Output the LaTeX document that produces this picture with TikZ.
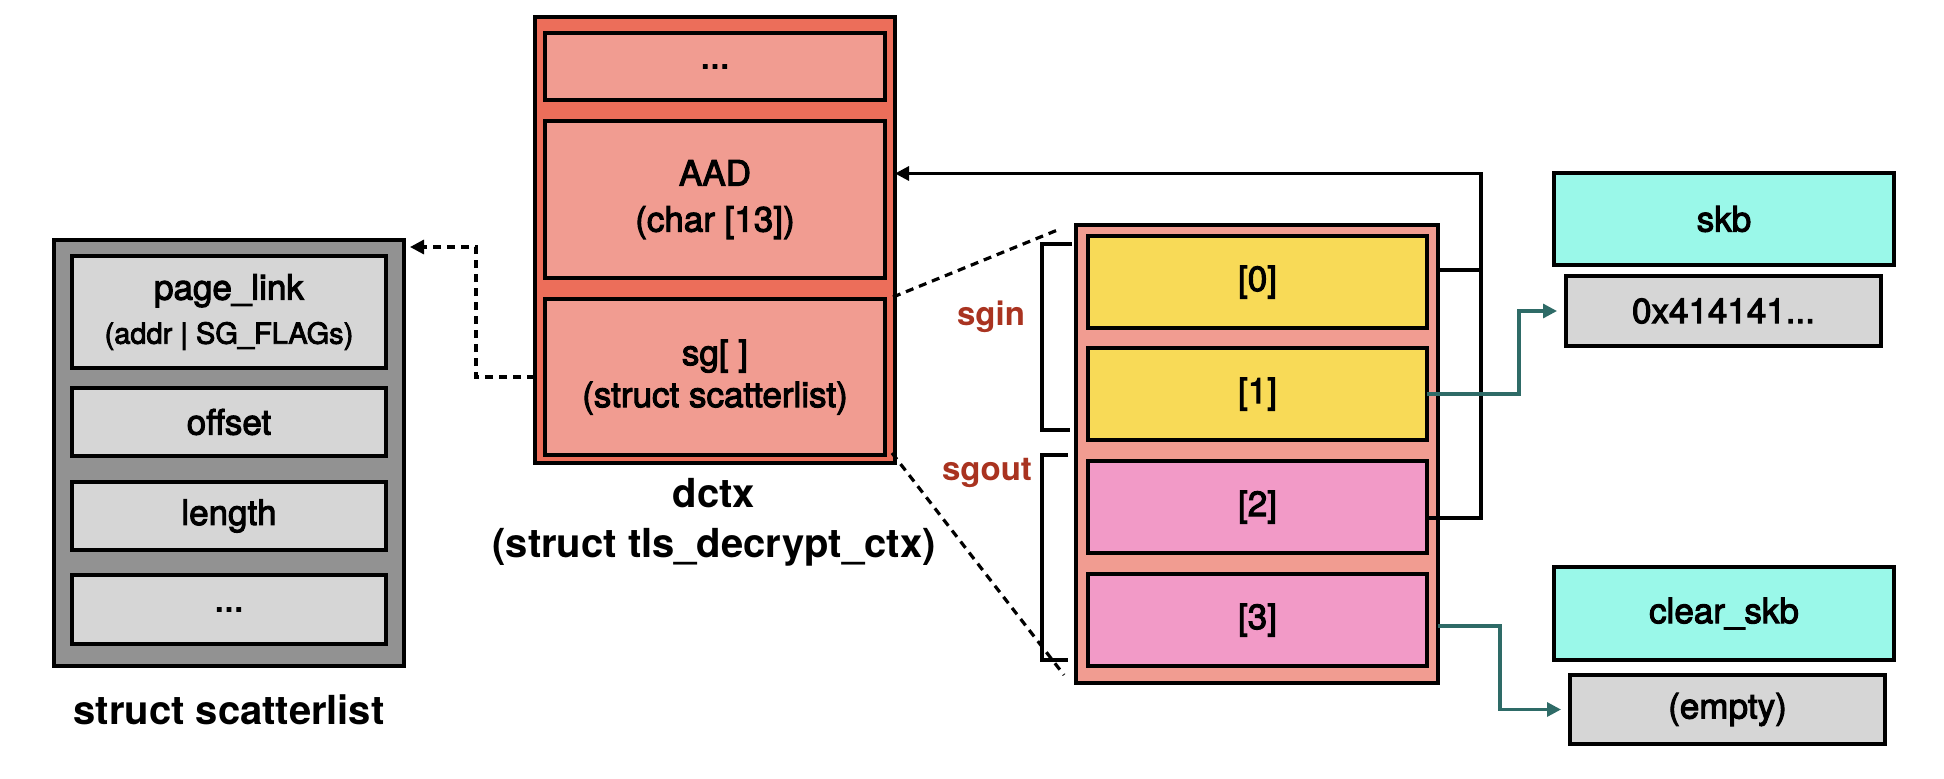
\documentclass[tikz,border=0pt]{standalone}
\usepackage{fontspec}
\setmainfont{TeX Gyre Heros}
\newfontfamily\medf[FakeBold=3]{TeX Gyre Heros}
\usetikzlibrary{fit,arrows.meta,calc}
\definecolor{slout}{HTML}{929292}
\definecolor{grayin}{HTML}{D6D6D6}
\definecolor{dcout}{HTML}{EC6E5A}
\definecolor{dcin}{HTML}{F19C91}
\definecolor{yel}{HTML}{F8DA57}
\definecolor{pnk}{HTML}{F29AC7}
\definecolor{aqua}{HTML}{9AF8E9}
\definecolor{tealc}{HTML}{2E6B67}
\definecolor{redl}{HTML}{A93320}
\newcommand\bodyf{\medf\fontsize{17.5}{21}\selectfont}
\newcommand\subf{\fontsize{14.5}{18}\selectfont}
\newcommand\lblf{\fontsize{20}{25}\selectfont\bfseries}
\tikzset{
  bx/.style={draw=black, line width=2pt, inner sep=0pt, outer sep=0pt},
  txt/.style={align=center, font=\bodyf, inner sep=0pt},
  lbl/.style={align=center, font=\lblf, inner sep=0pt},
  redlbl/.style={font=\fontsize{16.5}{20}\selectfont\bfseries, text=redl, inner sep=0pt},
  blk/.style={draw=black, line width=1.6pt},
  tl/.style={draw=tealc, line width=1.6pt},
  dsh/.style={draw=black, line width=1.6pt, dash pattern=on 4pt off 3pt},
  brk/.style={draw=black, line width=1.6pt},
  tip/.style={-{Triangle[length=7pt,width=7pt]}}
}
\begin{document}
\begin{tikzpicture}[x=0.5pt,y=-0.5pt]
\useasboundingbox (0,0) rectangle (1944,778);

% struct scatterlist
\node[bx, fill=slout, fit={(54,240) (404,666)}] (sl) {};
\node[bx, fill=grayin, fit={(72,256) (386,368)}] (pl) {};
\node[bx, fill=grayin, fit={(72,388) (386,456)}] (off) {};
\node[bx, fill=grayin, fit={(72,482) (386,550)}] (len) {};
\node[bx, fill=grayin, fit={(72,575) (386,644)}] (sld) {};
\node[txt] (plT) at (pl.center) {page\_link\\[1pt]{\subf (addr | SG\_FLAGs)}};
\node[txt] (offT) at (off.center) {offset};
\node[txt] (lenT) at (len.center) {length};
\node[txt] (sldT) at (sld.center) {...};
\node[lbl] (sllbl) at (229,710) {struct scatterlist};

% dctx
\node[bx, fill=dcout, fit={(535,17) (895,463)}] (dctx) {};
\node[bx, fill=dcin, fit={(545,33) (885,100)}] (ddot) {};
\node[bx, fill=dcin, fit={(545,121) (885,278)}] (aad) {};
\node[bx, fill=dcin, fit={(545,299) (885,455)}] (sg) {};
\node[txt] (ddotT) at (ddot.center) {...};
\node[txt] (aadT) at (aad.center) {AAD\\[2pt](char [13])};
\node[txt] (sgT) at (sg.center) {sg[ ]\\(struct scatterlist)};
\node[lbl] (dlbl) at (714,522) {dctx\\(struct tls\_decrypt\_ctx)};

% array
\node[bx, fill=dcin, fit={(1076,225) (1438,683)}] (arr) {};
\node[bx, fill=yel, fit={(1088,236) (1427,328)}] (e0) {};
\node[bx, fill=yel, fit={(1088,348) (1427,440)}] (e1) {};
\node[bx, fill=pnk, fit={(1088,461) (1427,553)}] (e2) {};
\node[bx, fill=pnk, fit={(1088,574) (1427,666)}] (e3) {};
\node[txt] (e0T) at (e0.center) {[0]};
\node[txt] (e1T) at (e1.center) {[1]};
\node[txt] (e2T) at (e2.center) {[2]};
\node[txt] (e3T) at (e3.center) {[3]};

% skb boxes
\node[bx, fill=aqua, fit={(1554,173) (1894,265)}] (skb) {};
\node[bx, fill=grayin, fit={(1566,276) (1881,346)}] (hex) {};
\node[bx, fill=aqua, fit={(1554,567) (1894,660)}] (cskb) {};
\node[bx, fill=grayin, fit={(1570,675) (1885,744)}] (emp) {};
\node[txt] (skbT) at (skb.center) {skb};
\node[txt] (hexT) at (hex.center) {0x414141...};
\node[txt] (cskbT) at (cskb.center) {clear\_skb};
\node[txt] (empT) at (emp.center) {(empty)};

% labels
\node[redlbl] (sgin) at (991,317) {sgin};
\node[redlbl] (sgout) at (987,473) {sgout};

% brackets
\draw[brk] ($(arr.north west)+(-4,19)$) -- ++(-30,0) |- ($(e1.south -| arr.west)+(-6,-10)$);
\draw[brk] ($(e2.north -| arr.west)+(-8,-6)$) -- ++(-26,0) |- ($(e3.south -| arr.west)+(-8,-6)$);

% dashed zoom lines
\draw[dsh] ($(sg.north east)+(8,-2)$) -- ($(arr.north west)+(-16,4)$);
\draw[dsh] ($(sg.south east)+(7,-2)$) -- ($(arr.south west)+(-12,-8)$);

% dashed arrow to scatterlist
\draw[dsh, tip, shorten >=3pt] (dctx.west |- sg.center) -- ++(-59,0) |- ($(sl.north east)+(0,7)$);

% black connectors to AAD
\draw[blk] ($(e0.east -| arr.east)+(0,-12)$) -- ++(43,0);
\draw[blk, tip] ($(e2.east)+(0,11)$) -- ++(54,0) |- ($(aad.east -| dctx.east)+(0,-26)$);

% teal connectors
\draw[tl, -{Triangle[length=7pt,width=7pt]}, tealc, shorten >=4.5pt] (e1.east) -- ++(92,0) |- (hex.west);
\draw[tl, -{Triangle[length=7pt,width=7pt]}, tealc, shorten >=4.5pt] ($(e3.east -| arr.east)+(0,6)$) -- ++(62,0) |- (emp.west);
\end{tikzpicture}
\end{document}
